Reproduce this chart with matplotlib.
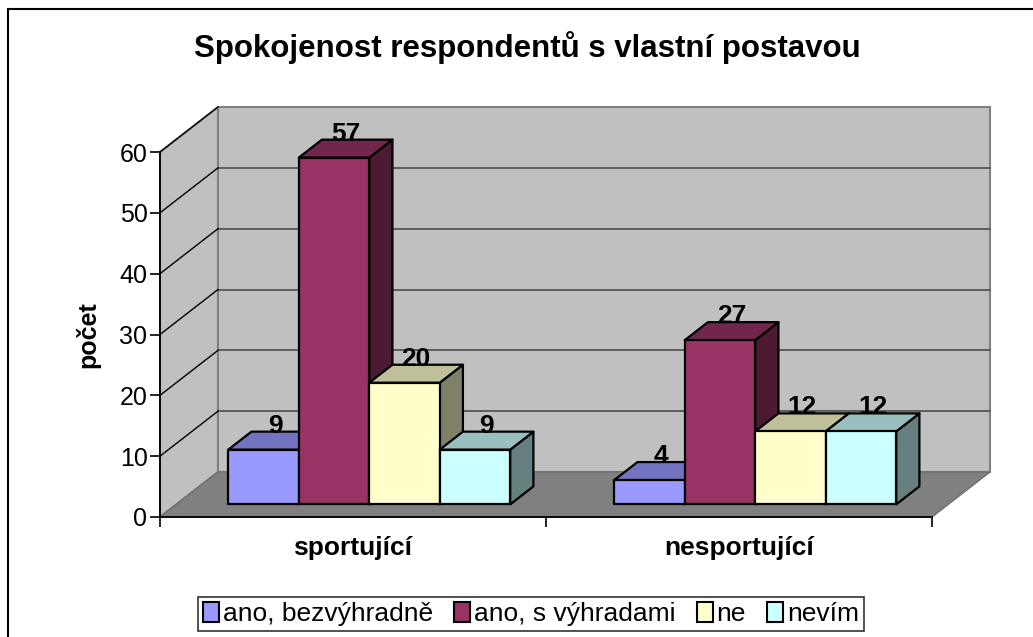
import matplotlib.pyplot as plt
from matplotlib.patches import Polygon, Rectangle
from matplotlib.colors import to_rgb

# data
kategorie = ["sportující", "nesportující"]
odpovedi = ["ano, bezvýhradně", "ano, s výhradami", "ne", "nevím"]
sportujici = [9, 57, 20, 9]
nesportujici = [4, 27, 12, 12]
barvy = ["#9999FF", "#993366", "#FFFFCC", "#CCFFFF"]
yticks = [0, 10, 20, 30, 40, 50, 60]

plt.rcParams['font.family'] = ['Liberation Sans', 'DejaVu Sans']

W, H = 1033, 637
fig = plt.figure(figsize=(W / 100, H / 100), dpi=100)

# front plane of the pseudo 3D box in pixels
x0, x1 = 160, 932
y0, y1 = 517, 152
ax = fig.add_axes([x0 / W, 1 - y0 / H, (x1 - x0) / W, (y0 - y1) / H])
ax.set_xlim(-0.5, 1.5)
ax.set_ylim(0, 60)

# depth of the box (data units)
hloubka_x = 58 / 386
hloubka_y = 45 / ((y0 - y1) / 60)


def posun(f):
    return f * hloubka_x, f * hloubka_y


dx, dy = posun(1.0)
xl, xr = -0.5, 1.5

# walls and floor
ax.add_patch(Polygon([(xl, 0), (xl + dx, dy), (xl + dx, 60 + dy), (xl, 60)],
                     closed=True, fc="#C0C0C0", ec="#808080", lw=1.5, clip_on=False, zorder=1))
ax.add_patch(Polygon([(xl + dx, dy), (xr + dx, dy), (xr + dx, 60 + dy), (xl + dx, 60 + dy)],
                     closed=True, fc="#C0C0C0", ec="#808080", lw=1.5, clip_on=False, zorder=1))
ax.add_patch(Polygon([(xl, 0), (xr, 0), (xr + dx, dy), (xl + dx, dy)],
                     closed=True, fc="#808080", ec="#707070", lw=1, clip_on=False, zorder=1))
for v in yticks[1:-1]:
    ax.plot([xl + dx, xr + dx], [v + dy, v + dy], color="#555555", lw=1.3, clip_on=False, zorder=2)
for v in yticks[1:]:
    ax.plot([xl, xl + dx], [v, v + dy], color="black", lw=1, clip_on=False, zorder=2)

# bars
sirka = 0.1826
f0, fb = 0.28, 0.40
ox, oy = posun(f0)
bx, by = posun(fb)


def tmavsi(c, k):
    r, g, b = to_rgb(c)
    return (r * k, g * k, b * k)


for i, hodnoty in enumerate([sportujici, nesportujici]):
    start = i - 2 * sirka
    for j, h in enumerate(hodnoty):
        lx = start + j * sirka + ox
        rx = lx + sirka
        b0 = oy
        top = h + oy
        kw = dict(closed=True, ec="black", lw=1.6, clip_on=False, zorder=3, joinstyle="round")
        ax.add_patch(Polygon([(rx, b0), (rx + bx, b0 + by), (rx + bx, top + by), (rx, top)],
                             fc=tmavsi(barvy[j], 0.5), **kw))
        ax.add_patch(Polygon([(lx, top), (rx, top), (rx + bx, top + by), (lx + bx, top + by)],
                             fc=tmavsi(barvy[j], 0.75), **kw))
        ax.add_patch(Polygon([(lx, b0), (rx, b0), (rx, top), (lx, top)],
                             fc=barvy[j], **kw))
        ax.text((lx + rx) / 2 + bx / 2, top + by - 1.0, str(h), ha="center", va="bottom",
                fontsize=19, fontweight="bold", zorder=4)

# axes
for s in ["top", "right"]:
    ax.spines[s].set_visible(False)
ax.spines["left"].set_linewidth(1.3)
ax.spines["bottom"].set_linewidth(1.3)
ax.spines["left"].set_zorder(5)
ax.spines["bottom"].set_zorder(5)
ax.set_yticks(yticks)
ax.tick_params(axis="y", labelsize=18, length=7, width=1.2, pad=2)
ax.set_xticks([0, 1])
ax.set_xticklabels(kategorie, fontsize=19, fontweight="bold")
ax.set_xticks([-0.5, 0.5, 1.5], minor=True)
ax.tick_params(axis="x", which="major", length=0, pad=14)
ax.tick_params(axis="x", which="minor", length=7, width=1.2)
ax.set_ylabel("počet", fontsize=18, fontweight="bold", labelpad=14)
ax.set_facecolor("none")

fig.text(0.51, 1 - 48 / H, "Spokojenost respondentů s vlastní postavou", ha="center", va="center",
         fontsize=22.5, fontweight="bold")

handles = [Rectangle((0, 0), 1, 1, fc=c, ec="black", lw=1.5) for c in barvy]
fig.legend(handles, odpovedi, loc="center", bbox_to_anchor=(531 / W, 1 - 614 / H), ncol=4,
           fontsize=19, frameon=True, fancybox=False, edgecolor="black", handlelength=0.6,
           handleheight=0.8, handletextpad=0.15, columnspacing=0.8, borderpad=0.2,
           borderaxespad=0).get_frame().set_linewidth(1.2)

# outer border
fig.add_artist(Rectangle((8 / W, -0.1), 1.2, 1 - 9 / H + 0.1, transform=fig.transFigure,
                         fill=False, ec="black", lw=1.5))

fig.savefig("out.png", dpi=100)
